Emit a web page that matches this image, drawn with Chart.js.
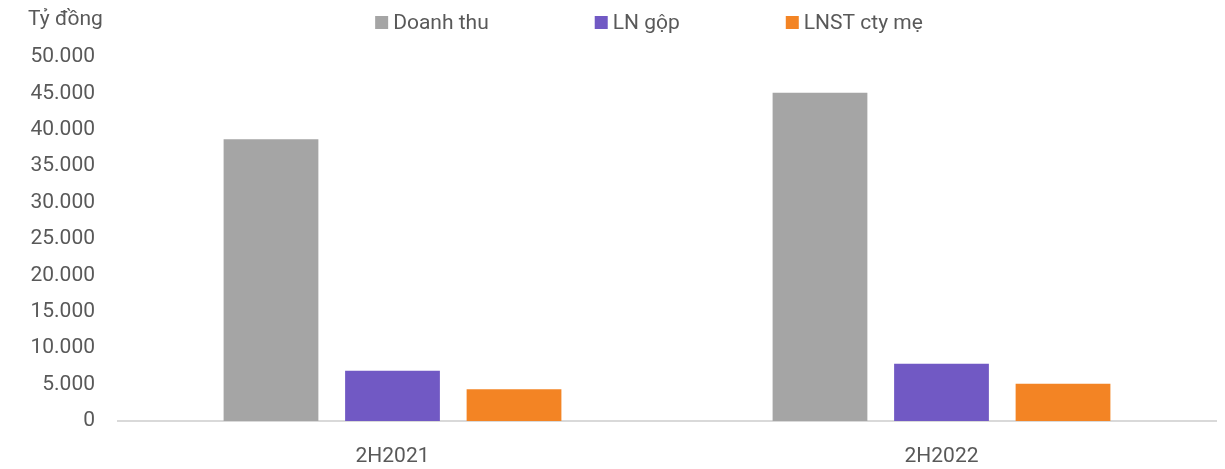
<!DOCTYPE html>
<html>
<head>
<meta charset="utf-8">
<script src="https://cdn.jsdelivr.net/npm/chart.js@4"></script>
<style>
  html, body { margin: 0; padding: 0; background: #fff; }
  #wrap { width: 1225px; height: 469px; position: relative; }
</style>
</head>
<body>
<div id="wrap"><canvas id="myChart"></canvas></div>
<script>
const categories = ['2H2021', '2H2022'];
const seriesNames = ['Doanh thu', 'LN gộp', 'LNST cty mẹ'];
const doanhThu = [38700, 45100];
const lnGop = [6900, 7870];
const lnstCtyMe = [4350, 5120];
const unitLabel = 'Tỷ đồng';

const colors = ['#a5a5a5', '#7159c4', '#f38424'];
const textColor = '#595959';
const fontFamily = 'Roboto, "Noto Sans", sans-serif';

Chart.defaults.font.family = fontFamily;
Chart.defaults.font.size = 21;
Chart.defaults.color = textColor;

// legend + unit label drawn by hand so the spacing matches
const topLabels = {
    id: 'topLabels',
    afterDraw(chart) {
        const ctx = chart.ctx;
        ctx.save();
        ctx.font = '21px ' + fontFamily;
        ctx.fillStyle = textColor;
        ctx.textBaseline = 'alphabetic';
        ctx.textAlign = 'left';
        ctx.fillText(unitLabel, 28, 25);

        const box = 13, gapText = 5, gapItem = 106;
        const widths = seriesNames.map(n => box + gapText + ctx.measureText(n).width);
        const total = widths.reduce((a, b) => a + b, 0) + gapItem * (widths.length - 1);
        let x = 649 - total / 2;
        seriesNames.forEach((name, i) => {
            ctx.fillStyle = colors[i];
            ctx.fillRect(x, 16, box, box);
            ctx.fillStyle = textColor;
            ctx.fillText(name, x + box + gapText, 29);
            x += widths[i] + gapItem;
        });
        ctx.restore();
    }
};

const data = {
    labels: categories,
    datasets: [doanhThu, lnGop, lnstCtyMe].map((vals, i) => ({
        label: seriesNames[i],
        data: vals,
        backgroundColor: colors[i],
        borderWidth: 0,
        categoryPercentage: 0.664,
        barPercentage: 0.78,
    })),
};

const config = {
    type: 'bar',
    data: data,
    options: {
        responsive: false,
        animation: false,
        layout: {
            padding: {top: 57, right: 9, bottom: 0, left: 0}
        },
        plugins: {
            legend: {display: false},
            tooltip: {enabled: false},
        },
        scales: {
            x: {
                grid: {display: false, drawTicks: false},
                border: {display: true, color: '#d9d9d9', width: 2},
                ticks: {padding: 23, color: textColor, maxRotation: 0},
                afterFit: scale => { scale.height = 48; },
            },
            y: {
                min: 0,
                max: 50000,
                grid: {display: false, drawTicks: false},
                border: {display: false},
                ticks: {
                    stepSize: 5000,
                    padding: 23,
                    color: textColor,
                    callback: v => v.toLocaleString('de-DE'),
                },
                afterFit: scale => { scale.width = 118; },
            }
        }
    },
    plugins: [topLabels],
};

const canvas = document.getElementById('myChart');
canvas.width = 1225;
canvas.height = 469;
const myChart = new Chart(canvas, config);
</script>
</body>
</html>
